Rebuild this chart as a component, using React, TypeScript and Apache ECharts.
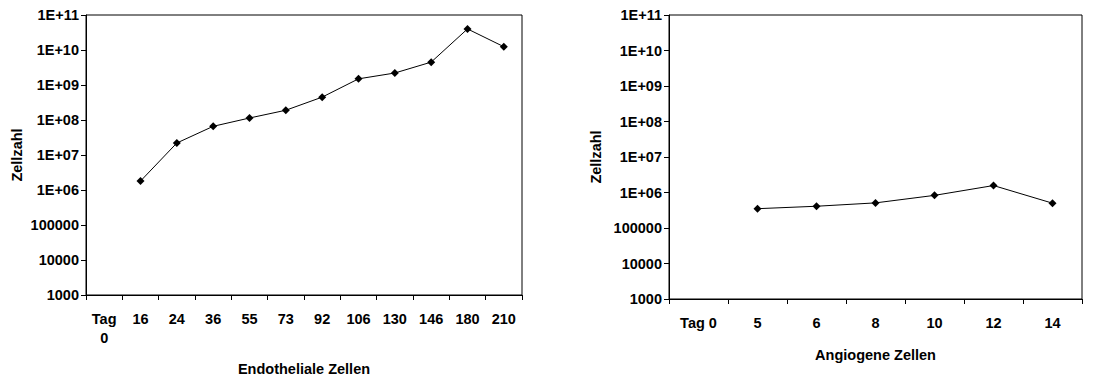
import React, { useEffect, useRef } from "react";
import * as echarts from "echarts";

const endoCategories = ["Tag 0", "16", "24", "36", "55", "73", "92", "106", "130", "146", "180", "210"];
const endoValues: (number | null)[] = [null, 1.8e6, 2.2e7, 6.6e7, 1.14e8, 1.9e8, 4.5e8, 1.5e9, 2.2e9, 4.5e9, 4.0e10, 1.24e10];

const angioCategories = ["Tag 0", "5", "6", "8", "10", "12", "14"];
const angioValues: (number | null)[] = [null, 3.5e5, 4.1e5, 5.1e5, 8.3e5, 1.57e6, 5.0e5];

const yMin = 1000;
const yMax = 1e11;

const FONT = "'Liberation Sans', Arial, sans-serif";

function fmtY(v: number): string {
  const e = Math.round(Math.log10(v));
  if (e >= 6) return "1E+" + (e < 10 ? "0" : "") + e;
  return String(Math.round(Math.pow(10, e)));
}

export default function App() {
  const ref = useRef<HTMLDivElement>(null);
  useEffect(() => {
    if (!ref.current) return;
    const chart = echarts.init(ref.current, undefined, { renderer: "svg" });
    const textStyle = { color: "#000", fontFamily: FONT, fontWeight: "bold" as const, fontSize: 14.5 };
    const yAxisBase = (gridIndex: number, nameGap: number) => ({
      type: "log" as const,
      gridIndex,
      logBase: 10,
      min: yMin,
      max: yMax,
      name: "Zellzahl",
      nameLocation: "middle" as const,
      nameGap,
      nameTextStyle: { ...textStyle },
      axisLine: { show: true, lineStyle: { color: "#000", width: 1 } },
      axisTick: { show: true, inside: false, length: 5, lineStyle: { color: "#000" } },
      axisLabel: { ...textStyle, margin: 7, formatter: (v: number) => fmtY(v) },
      splitLine: { show: false },
      minorTick: { show: false },
    });
    const xAxisBase = (gridIndex: number, data: string[], name: string, nameGap: number, fmt?: (v: string) => string) => ({
      type: "category" as const,
      gridIndex,
      data,
      boundaryGap: true,
      name,
      nameLocation: "middle" as const,
      nameGap,
      nameTextStyle: { ...textStyle },
      axisLine: { show: true, lineStyle: { color: "#000", width: 1 } },
      axisTick: { show: true, alignWithLabel: false, length: 5, lineStyle: { color: "#000" } },
      axisLabel: { ...textStyle, margin: 14, interval: 0, lineHeight: 19, formatter: fmt },
      splitLine: { show: false },
    });
    chart.setOption({
      animation: false,
      backgroundColor: "#fff",
      grid: [
        { left: 86, top: 15, width: 436, height: 283, show: true, borderColor: "#000", borderWidth: 1, backgroundColor: "transparent" },
        { left: 669, top: 15, width: 413, height: 284, show: true, borderColor: "#000", borderWidth: 1, backgroundColor: "transparent" },
      ],
      xAxis: [
        xAxisBase(0, endoCategories, "Endotheliale Zellen", 66, (v: string) => (v === "Tag 0" ? "Tag\n0" : v)),
        xAxisBase(1, angioCategories, "Angiogene Zellen", 48),
      ],
      yAxis: [yAxisBase(0, 62), yAxisBase(1, 66)],
      series: [
        {
          type: "line",
          xAxisIndex: 0,
          yAxisIndex: 0,
          data: endoValues,
          symbol: "diamond",
          symbolSize: 8,
          itemStyle: { color: "#000" },
          lineStyle: { color: "#000", width: 1 },
          connectNulls: false,
        },
        {
          type: "line",
          xAxisIndex: 1,
          yAxisIndex: 1,
          data: angioValues,
          symbol: "diamond",
          symbolSize: 8,
          itemStyle: { color: "#000" },
          lineStyle: { color: "#000", width: 1 },
          connectNulls: false,
        },
      ],
    });
    return () => chart.dispose();
  }, []);
  return <div ref={ref} style={{ width: 1103, height: 381, position: "absolute", left: 0, top: 0 }} />;
}
